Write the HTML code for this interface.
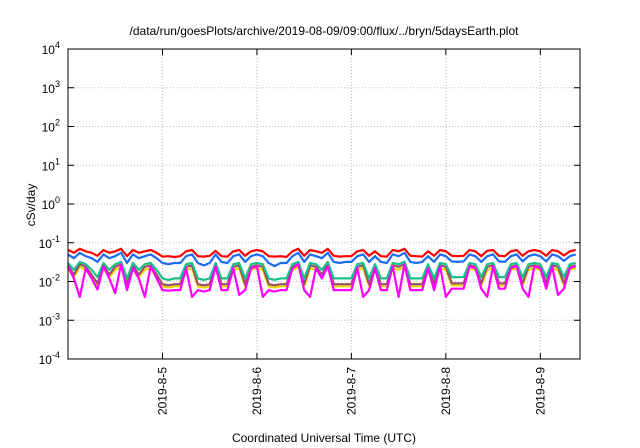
<!DOCTYPE html>
<html><head><meta charset="utf-8"><style>
body{margin:0;background:#fff;}
svg{display:block;font-family:"Liberation Sans",sans-serif;}
</style></head><body>
<svg id="chart" width="640" height="448">
<text x="324" y="35" text-anchor="middle" font-size="12">/data/run/goesPlots/archive/2019-08-09/09:00/flux/../bryn/5daysEarth.plot</text>
<text transform="translate(35,205) rotate(-90)" text-anchor="middle" font-size="12">cSv/day</text>
<text x="324" y="442" text-anchor="middle" font-size="12">Coordinated Universal Time (UTC)</text>
<g id="grid"></g><g id="series"></g><g id="axes"></g>
</svg>
<script>
const yExps=[-4,-3,-2,-1,0,1,2,3,4];
const xTickLabels=["2019-8-5","2019-8-6","2019-8-7","2019-8-8","2019-8-9"];
const xTickDays=[1,2,3,4,5];
const red=[.065,.055,.07,.06,.055,.046,.065,.055,.06,.07,.045,.065,.055,.06,.065,.055,
.044,.045,.043,.045,.06,.065,.045,.044,.046,.062,.045,.044,.06,.065,.046,.06,
.065,.06,.045,.044,.045,.043,.06,.07,.046,.065,.06,.055,.07,.046,.044,.045,
.045,.06,.065,.046,.06,.045,.044,.065,.06,.07,.046,.045,.044,.06,.046,.065,
.06,.046,.045,.046,.065,.06,.045,.062,.065,.046,.045,.06,.065,.046,.06,.065,
.06,.046,.065,.06,.047,.06,.065];
const blue=[.05,.04,.055,.045,.04,.032,.05,.04,.045,.055,.03,.05,.04,.045,.05,.04,
.03,.028,.03,.03,.045,.05,.03,.026,.03,.05,.032,.03,.045,.05,.032,.045,
.05,.045,.03,.025,.03,.03,.045,.055,.032,.05,.045,.04,.055,.032,.03,.032,
.032,.045,.05,.032,.045,.032,.03,.05,.045,.055,.032,.03,.032,.045,.032,.05,
.045,.033,.032,.033,.05,.045,.032,.045,.05,.033,.032,.045,.05,.033,.045,.05,
.045,.033,.05,.045,.034,.045,.05];
const teal=[.03,.02,.032,.028,.02,.013,.03,.02,.028,.032,.012,.03,.02,.028,.03,.02,
.012,.011,.012,.012,.028,.03,.012,.011,.012,.03,.012,.012,.028,.03,.012,.028,
.03,.028,.012,.011,.012,.012,.028,.032,.012,.03,.028,.02,.032,.012,.012,.012,
.012,.028,.03,.012,.028,.012,.012,.03,.028,.032,.012,.012,.012,.028,.012,.03,
.028,.013,.013,.013,.03,.028,.013,.028,.03,.013,.013,.028,.03,.013,.028,.03,
.028,.013,.03,.028,.013,.028,.03];
const brown=[.026,.015,.028,.024,.015,.009,.026,.015,.024,.028,.0085,.026,.015,.024,.026,.015,
.0085,.008,.0085,.0085,.024,.026,.0085,.008,.0085,.026,.0085,.0085,.024,.026,.0085,.024,
.026,.024,.0085,.008,.0085,.0085,.024,.028,.0085,.026,.024,.015,.028,.0085,.0085,.0085,
.0085,.024,.026,.0085,.024,.0085,.0085,.026,.024,.028,.0085,.0085,.0085,.024,.0085,.026,
.024,.009,.009,.009,.026,.024,.009,.024,.026,.009,.009,.024,.026,.009,.024,.026,
.024,.009,.026,.024,.009,.024,.026];
const yellow=[.022,.013,.024,.02,.013,.008,.022,.013,.02,.024,.0075,.022,.013,.02,.022,.013,
.0075,.007,.0075,.0075,.02,.022,.0075,.007,.0075,.022,.0075,.0075,.02,.022,.0075,.02,
.022,.02,.0075,.007,.0075,.0075,.02,.024,.0075,.022,.02,.013,.024,.0075,.0075,.0075,
.0075,.02,.022,.0075,.02,.0075,.0075,.022,.02,.024,.0075,.0075,.0075,.02,.0075,.022,
.02,.008,.008,.008,.022,.02,.008,.02,.022,.008,.008,.02,.022,.008,.02,.022,
.02,.008,.022,.02,.008,.02,.022];
const magenta=[.025,.012,.004,.022,.012,.0062,.025,.012,.005,.028,.006,.022,.012,.004,.025,.012,
.006,.0058,.006,.006,.022,.004,.006,.0055,.006,.025,.006,.006,.022,.0045,.006,.022,
.025,.004,.006,.0055,.006,.006,.022,.028,.006,.004,.022,.012,.025,.006,.006,.006,
.006,.022,.004,.006,.022,.006,.006,.025,.004,.028,.006,.006,.006,.022,.006,.025,
.004,.0065,.0065,.0065,.025,.022,.0065,.004,.025,.0065,.0065,.022,.025,.0065,.004,.025,
.022,.0065,.025,.0045,.0065,.022,.025];
const hoursStep=1.5;
const X0=68,X1=580,Y0=49,Y1=359,DAYS=5.42;
const ns="http://www.w3.org/2000/svg";
function xs(day){return X0+(day/DAYS)*(X1-X0);}
function ys(v){return Y1-(Math.log10(v)+4)/8*(Y1-Y0);}
function mk(t,a,p){const e=document.createElementNS(ns,t);for(const k in a)e.setAttribute(k,a[k]);p.appendChild(e);return e;}
const grid=document.getElementById('grid'),axes=document.getElementById('axes'),ser=document.getElementById('series');
yExps.forEach((e,i)=>{const y=ys(Math.pow(10,e));
 if(i>0&&i<yExps.length-1){const g=mk('line',{x1:X0,x2:X1,y1:y,y2:y,stroke:'#bbb','stroke-dasharray':'1,2','stroke-width':1},grid);
 
 }
 mk('line',{x1:X0,x2:X0+6,y1:y,y2:y,stroke:'#000'},axes);
 mk('line',{x1:X1,x2:X1-6,y1:y,y2:y,stroke:'#000'},axes);
 const t=mk('text',{x:X0-8,y:y+5,'text-anchor':'end','font-size':12},axes);
 
 
 t.textContent='10';const s=mk('tspan',{dy:-6,'font-size':9},t);s.textContent=e;});
xTickDays.forEach((d,i)=>{const x=xs(d);
 const g=mk('line',{x1:x,x2:x,y1:Y0,y2:Y1,stroke:'#bbb','stroke-dasharray':'1,2'},grid);
 
 
 mk('line',{x1:x,x2:x,y1:Y1,y2:Y1-6,stroke:'#000'},axes);
 mk('line',{x1:x,x2:x,y1:Y0,y2:Y0+6,stroke:'#000'},axes);
 const t=mk('text',{transform:`translate(${x+4},${Y1+8}) rotate(-90)`,'text-anchor':'end','font-size':12},axes);
 
 
 t.textContent=xTickLabels[i];});
const frame=mk('rect',{x:X0,y:Y0,width:X1-X0,height:Y1-Y0,fill:'none',stroke:'#000','stroke-width':1},axes);


const defs=[[yellow,'#e8d800','series-yellow'],[brown,'#9a4f6a','series-brown'],[teal,'#19c08a','series-teal'],[magenta,'#ff00ff','series-magenta'],[blue,'#1a6cf0','series-blue'],[red,'#ff0000','series-red']];
defs.forEach(([arr,c,n])=>{const pts=arr.map((v,i)=>xs(i*hoursStep/24).toFixed(1)+','+ys(v).toFixed(1)).join(' ');
 const p=mk('polyline',{points:pts,fill:'none',stroke:c,'stroke-width':2.2,'stroke-linejoin':'round'},ser);
 
 });
</script>
</body></html>
